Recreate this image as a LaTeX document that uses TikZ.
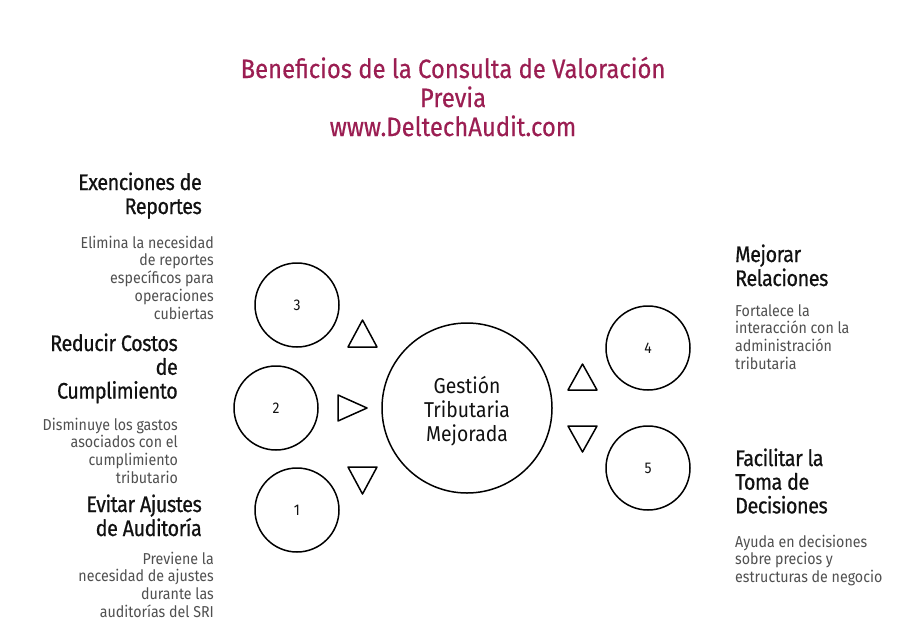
\documentclass[tikz,border=0pt]{standalone}
\usepackage{fontspec}
\setmainfont{Fira Sans}[FakeStretch=0.9]
\newfontfamily\headfont{Fira Sans}[FakeStretch=0.88, FakeBold=0.6, LetterSpace=-2]
\newfontfamily\ttlfont{Fira Sans}[FakeStretch=0.9, FakeBold=0.4]
\definecolor{titlec}{RGB}{155,30,82}
\definecolor{headc}{RGB}{17,17,17}
\definecolor{descc}{RGB}{80,80,80}
\tikzset{
  ttl/.style={font=\ttlfont\fontsize{26.5}{30}\selectfont, text=titlec, inner sep=0pt, anchor=base},
  head/.style={font=\headfont\fontsize{22.5}{24}\selectfont, text=headc, inner sep=0pt},
  desc/.style={font=\fontsize{15.8}{18}\selectfont, text=descc, inner sep=0pt},
  ring/.style={circle, draw=black, line width=1.5pt, minimum size=84pt, inner sep=0pt, font=\fontsize{15.5}{18}\selectfont, text=headc},
  hub/.style={circle, draw=black, line width=1.5pt, minimum size=170pt, inner sep=0pt},
  hubtxt/.style={font=\fontsize{21.5}{24}\selectfont, text=headc, align=center, inner sep=0pt},
  tri/.style={draw=black, line width=1.5pt, line join=round}
}
\begin{document}
\begin{tikzpicture}[x=1pt,y=-1pt]
\useasboundingbox[fill=white] (0,0) rectangle (912,624);
% title
\node[ttl] (t1) at (453,78) {Beneficios de la Consulta de Valoración};
\node[ttl] (t2) at (453,107) {Previa};
\node[ttl] (t3) at (453,136) {www.DeltechAudit.com};
% hub
\node[hub] (hub) at (467,408) {};
\node[hubtxt] (hubtext) at ([yshift=-3pt]hub.center) {Gestión\\Tributaria\\Mejorada};
% rings
\node[ring] (c3) at (297,305) {3};
\node[ring] (c2) at (276,408) {2};
\node[ring] (c1) at (297,510) {1};
\node[ring] (c4) at (648,348) {4};
\node[ring] (c5) at (648,468) {5};
% triangles
\draw[tri] (348,347) -- (377,347) -- (362.5,320) -- cycle;
\draw[tri] (338,395) -- (338,421) -- (367,408) -- cycle;
\draw[tri] (348,467) -- (377,467) -- (362.5,494) -- cycle;
\draw[tri] (568,390) -- (597,390) -- (582.5,364) -- cycle;
\draw[tri] (568,426) -- (597,426) -- (582.5,452) -- cycle;
% block 3
\foreach \t [count=\i] in {Exenciones de,Reportes}
  \node[head, anchor=base east] (h3-\i) at (202,{190+24*(\i-1)}) {\t};
\foreach \t [count=\i] in {Elimina la necesidad,de reportes,específicos para,operaciones,cubiertas}
  \node[desc, anchor=base east] (d3-\i) at (214,{248+17.8*(\i-1)}) {\t};
% block 2
\foreach \t [count=\i] in {Reducir Costos,de,Cumplimiento}
  \node[head, anchor=base east] (h2-\i) at (178,{351+23.8*(\i-1)}) {\t};
\foreach \t [count=\i] in {Disminuye los gastos,asociados con el,cumplimiento,tributario}
  \node[desc, anchor=base east] (d2-\i) at (178,{430+17.8*(\i-1)}) {\t};
% block 1
\foreach \t [count=\i] in {Evitar Ajustes,de Auditoría}
  \node[head, anchor=base east] (h1-\i) at (202,{512+24*(\i-1)}) {\t};
\foreach \t [count=\i] in {Previene la,necesidad de ajustes,durante las,auditorías del SRI}
  \node[desc, anchor=base east] (d1-\i) at (214,{564+17.8*(\i-1)}) {\t};
% block 4
\foreach \t [count=\i] in {Mejorar,Relaciones}
  \node[head, anchor=base west] (h4-\i) at (735,{262+24*(\i-1)}) {\t};
\foreach \t [count=\i] in {Fortalece la,interacción con la,administración,tributaria}
  \node[desc, anchor=base west] (d4-\i) at (735,{316+17.8*(\i-1)}) {\t};
% block 5
\foreach \t [count=\i] in {Facilitar la,Toma de,Decisiones}
  \node[head, anchor=base west] (h5-\i) at (735,{466+23.7*(\i-1)}) {\t};
\foreach \t [count=\i] in {Ayuda en decisiones,sobre precios y,estructuras de negocio}
  \node[desc, anchor=base west] (d5-\i) at (735,{547+17.8*(\i-1)}) {\t};
\end{tikzpicture}
\end{document}
